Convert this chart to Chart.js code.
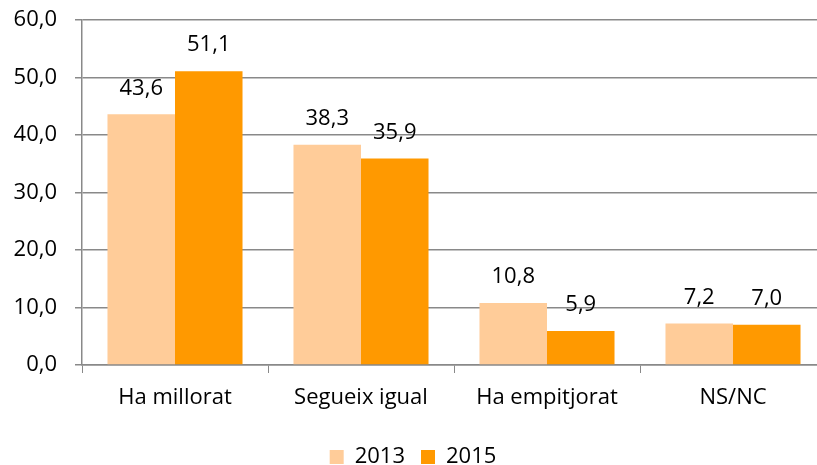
<!DOCTYPE html>
<html>
<head>
<meta charset="utf-8">
<script src="https://cdn.jsdelivr.net/npm/chart.js@4.4.1/dist/chart.umd.min.js"></script>
<style>
html,body{margin:0;padding:0;background:#fff;overflow:hidden;width:817px;height:465px;}
#wrap{position:absolute;left:0;top:0;width:830px;height:465px;}
</style>
</head>
<body>
<div id="wrap"><canvas id="c" width="830" height="465"></canvas></div>
<script>
const categories = ["Ha millorat", "Segueix igual", "Ha empitjorat", "NS/NC"];
const series2013 = [43.6, 38.3, 10.8, 7.2];
const series2015 = [51.1, 35.9, 5.9, 7.0];
const seriesNames = ["2013", "2015"];
const yTicks = [0, 10, 20, 30, 40, 50, 60];

const fmt = v => v.toFixed(1).replace('.', ',');
const FONT = "'Open Sans', Lato, sans-serif";
const FS = 22;

const labelPlugin = {
  id: 'valueLabels',
  afterDatasetsDraw(chart) {
    const ctx = chart.ctx;
    ctx.save();
    ctx.font = FS + "px " + FONT;
    ctx.fillStyle = "#000";
    ctx.textAlign = "center";
    ctx.textBaseline = "middle";
    chart.data.datasets.forEach((ds, i) => {
      chart.getDatasetMeta(i).data.forEach((bar, j) => {
        ctx.fillText(fmt(ds.data[j]), bar.x, bar.y - 26);
      });
    });
    ctx.restore();
  }
};

new Chart(document.getElementById('c'), {
  type: 'bar',
  data: {
    labels: categories,
    datasets: [
      { label: seriesNames[0], data: series2013, backgroundColor: '#FFCC99', categoryPercentage: 0.726, barPercentage: 1.0 },
      { label: seriesNames[1], data: series2015, backgroundColor: '#FF9900', categoryPercentage: 0.726, barPercentage: 1.0 }
    ]
  },
  options: {
    responsive: false,
    animation: false,
    layout: { padding: { top: 20, right: 4, left: 0, bottom: -13 } },
    plugins: {
      legend: {
        position: 'bottom',
        labels: { font: { size: FS, family: FONT }, color: '#000', boxWidth: 14, boxHeight: 14, padding: 16 }
      },
      tooltip: { enabled: false }
    },
    scales: {
      x: {
        grid: { drawOnChartArea: false, tickLength: 8, color: '#898989', offset: true },
        border: { color: '#898989', width: 1.5 },
        ticks: { font: { size: FS, family: FONT }, color: '#000', padding: 12 },
        afterFit: axis => { axis.height = 65; axis.paddingLeft = 0; axis.paddingRight = 0; }
      },
      y: {
        min: 0, max: 60,
        afterBuildTicks: axis => { axis.ticks = yTicks.map(v => ({ value: v })); },
        grid: { color: '#898989', lineWidth: 1.5, tickLength: 7 },
        border: { color: '#898989', width: 1.5 },
        ticks: { font: { size: FS, family: FONT }, color: '#000', padding: 18, callback: v => fmt(v) },
        afterFit: axis => { axis.width = 82; axis.paddingTop = 0; axis.paddingBottom = 0; }
      }
    }
  },
  plugins: [labelPlugin]
});
</script>
</body>
</html>
